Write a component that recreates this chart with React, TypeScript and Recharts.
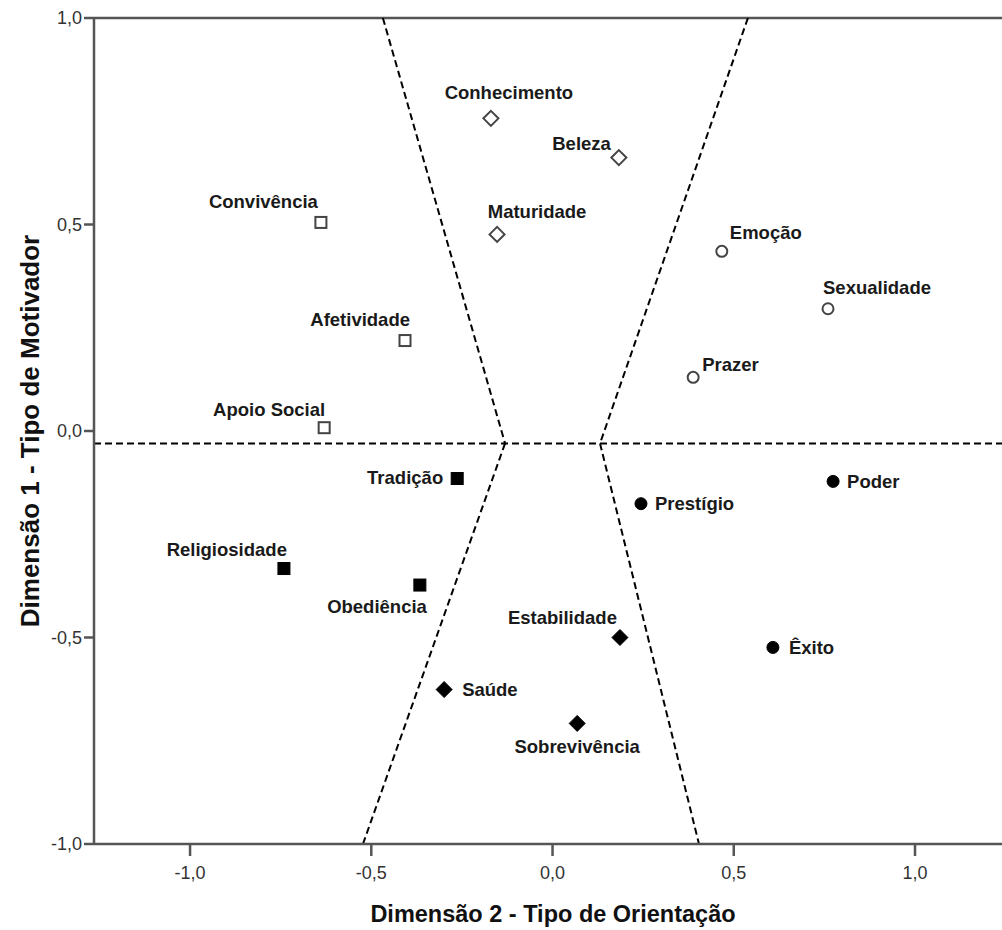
import { ScatterChart, Scatter, XAxis, YAxis, ReferenceLine } from 'recharts';

// values (Dimensão 2 = x, Dimensão 1 = y)
const openDiamond = [
  { name: 'Conhecimento', x: -0.170, y: 0.757 },
  { name: 'Beleza', x: 0.183, y: 0.662 },
  { name: 'Maturidade', x: -0.153, y: 0.476 },
];
const openSquare = [
  { name: 'Convivência', x: -0.639, y: 0.505 },
  { name: 'Afetividade', x: -0.407, y: 0.219 },
  { name: 'Apoio Social', x: -0.630, y: 0.008 },
];
const openCircle = [
  { name: 'Emoção', x: 0.467, y: 0.435 },
  { name: 'Sexualidade', x: 0.760, y: 0.296 },
  { name: 'Prazer', x: 0.388, y: 0.130 },
];
const filledSquare = [
  { name: 'Tradição', x: -0.263, y: -0.115 },
  { name: 'Religiosidade', x: -0.741, y: -0.333 },
  { name: 'Obediência', x: -0.366, y: -0.373 },
];
const filledCircle = [
  { name: 'Prestígio', x: 0.244, y: -0.176 },
  { name: 'Poder', x: 0.774, y: -0.122 },
  { name: 'Êxito', x: 0.608, y: -0.524 },
];
const filledDiamond = [
  { name: 'Estabilidade', x: 0.186, y: -0.500 },
  { name: 'Saúde', x: -0.299, y: -0.626 },
  { name: 'Sobrevivência', x: 0.068, y: -0.708 },
];

const xTicks = [-1, -0.5, 0, 0.5, 1];
const yTicks = [-1, -0.5, 0, 0.5, 1];

// dashed partition lines
const hLineY = -0.03;
const leftBoundUpper = [{ x: -0.468, y: 1 }, { x: -0.131, y: -0.03 }];
const leftBoundLower = [{ x: -0.131, y: -0.03 }, { x: -0.523, y: -1 }];
const rightBoundUpper = [{ x: 0.539, y: 1 }, { x: 0.131, y: -0.03 }];
const rightBoundLower = [{ x: 0.131, y: -0.03 }, { x: 0.404, y: -1 }];

// where each label sits relative to its marker
const LABEL_POS: Record<string, [string, number, number]> = {
  Conhecimento: ['middle', 18, -26],
  Beleza: ['end', -8, -14],
  Maturidade: ['middle', 40, -23],
  'Convivência': ['end', -3, -21],
  Afetividade: ['end', 5, -21],
  'Apoio Social': ['end', 1, -18],
  'Emoção': ['start', 8, -19],
  Sexualidade: ['start', -5, -21],
  Prazer: ['start', 9, -13],
  'Tradição': ['end', -14, -1],
  Religiosidade: ['end', 3, -19],
  'Obediência': ['end', 7, 21],
  'Prestígio': ['start', 14, 0],
  Poder: ['start', 14, 0],
  'Êxito': ['start', 16, 0],
  Estabilidade: ['end', -3, -20],
  'Saúde': ['start', 18, 0],
  'Sobrevivência': ['middle', 0, 23],
};

const FONT = '"Liberation Sans", Arial, sans-serif';
const AXIS = '#555';

type Kind = 'diamond' | 'square' | 'circle';

function makeShape(kind: Kind, filled: boolean) {
  return (props: any) => {
    const { cx, cy, payload } = props;
    if (cx == null || cy == null) return <g />;
    const fill = filled ? '#000' : '#fff';
    const stroke = filled ? '#000' : '#444';
    let mark;
    if (kind === 'diamond') {
      const r = filled ? 8 : 7.5;
      mark = (
        <polygon
          points={`${cx},${cy - r} ${cx + r},${cy} ${cx},${cy + r} ${cx - r},${cy}`}
          fill={fill}
          stroke={stroke}
          strokeWidth={filled ? 1 : 2}
        />
      );
    } else if (kind === 'square') {
      const s = filled ? 12 : 11;
      mark = <rect x={cx - s / 2} y={cy - s / 2} width={s} height={s} fill={fill} stroke={stroke} strokeWidth={filled ? 1 : 2} />;
    } else {
      mark = <circle cx={cx} cy={cy} r={filled ? 6 : 5.5} fill={fill} stroke={stroke} strokeWidth={filled ? 1 : 2} />;
    }
    const [anchor, dx, dy] = LABEL_POS[payload.name] || ['start', 10, 0];
    return (
      <g>
        {mark}
        <text
          x={cx + dx}
          y={cy + dy}
          textAnchor={anchor as any}
          dominantBaseline="central"
          fontFamily={FONT}
          fontWeight={700}
          fontSize={18.5}
          fill="#1a1a1a"
        >
          {payload.name}
        </text>
      </g>
    );
  };
}

const fmt = (v: number) => v.toFixed(1).replace('.', ',');

const W = 1002;
const H = 930;
const Y_AXIS_W = 94;
const X_AXIS_H = 86;
const TOP = 18;

export default function App() {
  const dash = { stroke: '#000', strokeWidth: 2, strokeDasharray: '7 4' };
  return (
    <div style={{ position: 'absolute', left: 0, top: 0, width: W, height: H, background: '#fff' }}>
      <ScatterChart width={W} height={H} margin={{ top: TOP, right: 0, bottom: 0, left: 0 }}>
        <XAxis
          type="number"
          dataKey="x"
          domain={[-1.265, 1.24]}
          ticks={xTicks}
          allowDataOverflow
          tickFormatter={fmt}
          height={X_AXIS_H}
          tickSize={12}
          tickMargin={10}
          stroke={AXIS}
          axisLine={{ stroke: AXIS, strokeWidth: 2.5 }}
          tickLine={{ stroke: AXIS, strokeWidth: 2.5 }}
          tick={{ fill: '#333', fontSize: 18, fontFamily: FONT }}
          label={{
            value: 'Dimensão 2 - Tipo de Orientação',
            position: 'insideBottom',
            offset: 8,
            dx: 5,
            fill: '#111',
            fontSize: 23.5,
            fontWeight: 700,
            fontFamily: FONT,
          }}
        />
        <YAxis
          type="number"
          dataKey="y"
          domain={[-1, 1]}
          ticks={yTicks}
          allowDataOverflow
          tickFormatter={fmt}
          width={Y_AXIS_W}
          tickSize={10}
          tickMargin={2}
          stroke={AXIS}
          axisLine={{ stroke: AXIS, strokeWidth: 2.5 }}
          tickLine={{ stroke: AXIS, strokeWidth: 2.5 }}
          tick={{ fill: '#333', fontSize: 18, fontFamily: FONT }}
          label={{
            value: 'Dimensão 1 - Tipo de Motivador',
            angle: -90,
            position: 'insideLeft',
            offset: 30,
            style: { textAnchor: 'middle' },
            fill: '#111',
            fontSize: 26,
            fontWeight: 700,
            fontFamily: FONT,
          }}
        />
        <ReferenceLine y={1} stroke={AXIS} strokeWidth={2.5} />
        <ReferenceLine y={hLineY} {...dash} />
        <ReferenceLine segment={leftBoundUpper} {...dash} />
        <ReferenceLine segment={leftBoundLower} {...dash} />
        <ReferenceLine segment={rightBoundUpper} {...dash} />
        <ReferenceLine segment={rightBoundLower} {...dash} />
        <Scatter data={openDiamond} shape={makeShape('diamond', false)} isAnimationActive={false} />
        <Scatter data={openSquare} shape={makeShape('square', false)} isAnimationActive={false} />
        <Scatter data={openCircle} shape={makeShape('circle', false)} isAnimationActive={false} />
        <Scatter data={filledSquare} shape={makeShape('square', true)} isAnimationActive={false} />
        <Scatter data={filledCircle} shape={makeShape('circle', true)} isAnimationActive={false} />
        <Scatter data={filledDiamond} shape={makeShape('diamond', true)} isAnimationActive={false} />
      </ScatterChart>
    </div>
  );
}
